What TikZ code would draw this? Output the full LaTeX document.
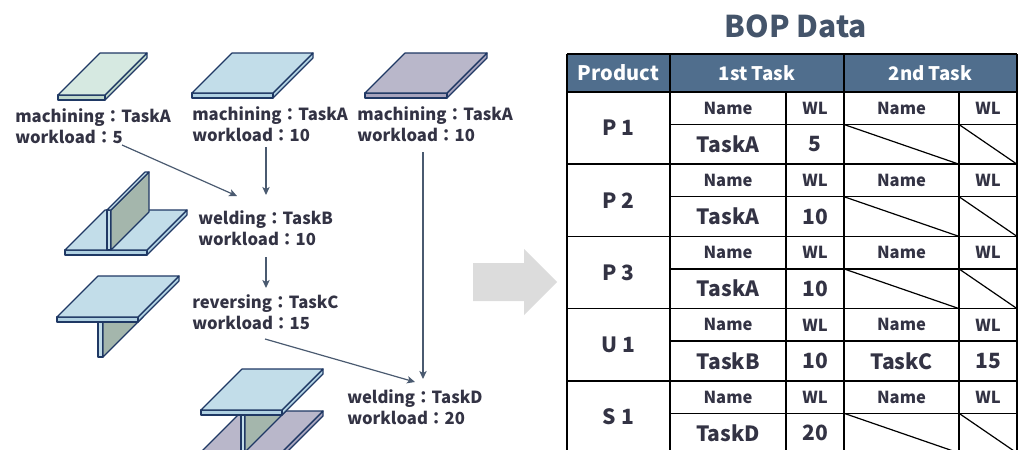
\documentclass[tikz,border=0pt]{standalone}
\usepackage{fontspec}
\setmainfont{Noto Sans CJK JP}
\usetikzlibrary{arrows.meta}
\definecolor{edge}{HTML}{1F3864}
\definecolor{pblue}{HTML}{C2DDE9}
\definecolor{pblueside}{HTML}{B0D1E2}
\definecolor{pgreen}{HTML}{D6E9E1}
\definecolor{pgreenside}{HTML}{BFD8CB}
\definecolor{ppurple}{HTML}{B9B7CA}
\definecolor{ppurpleside}{HTML}{A7A4BD}
\definecolor{webc}{HTML}{A4B6AC}
\definecolor{arrc}{HTML}{4A5A70}
\definecolor{txt}{HTML}{333344}
\definecolor{hdr}{HTML}{506E8D}
\definecolor{titlec}{HTML}{44546A}
\definecolor{bigarr}{HTML}{DCDCDC}
\newcommand\mkplate[6]{%
  \filldraw[fill=#6,draw=edge,line width=0.9pt,line join=round] ({#1+#3},#2) -- ++(#4,-#4) -- ++(0,5) -- ++(-#4,#4) -- cycle;
  \filldraw[fill=#6,draw=edge,line width=0.9pt,line join=round] (#1,#2) rectangle ++(#3,5);
  \filldraw[fill=#5,draw=edge,line width=0.9pt,line join=round] (#1,#2) -- ++(#3,0) -- ++(#4,-#4) -- ++(-#3,0) -- cycle;
}
\begin{document}
\begin{tikzpicture}[x=0.75pt,y=-0.75pt,
  lab/.style={anchor=west,inner sep=0pt,align=left,text=txt,font=\fontsize{12.5pt}{15.4pt}\selectfont\bfseries},
  conn/.style={draw=arrc,line width=0.9pt,-{Stealth[length=6pt,width=5.5pt,inset=1.5pt]}},
  webface/.style={fill=webc,draw=edge,line width=0.9pt,line join=round},
  webstrip/.style={fill=pblue,draw=edge,line width=0.9pt,line join=round},
  tline/.style={draw=black,line width=1.1pt},
  hdrtxt/.style={text=white,inner sep=0pt,font=\fontsize{14pt}{16pt}\selectfont\bfseries},
  smalltxt/.style={text=txt,inner sep=0pt,font=\fontsize{12.4pt}{14pt}\selectfont\bfseries},
  bigtxt/.style={text=txt,inner sep=0pt,font=\fontsize{15.75pt}{18pt}\selectfont\bfseries},
  prodtxt/.style={text=txt,inner sep=0pt,font=\fontsize{15.75pt}{18pt}\selectfont\bfseries}]
\useasboundingbox (0,0) rectangle (1022,450);
\clip (0,0) rectangle (1022,450);

% ---- plates (top row)
\mkplate{58}{95}{47}{42}{pgreen}{pgreenside}
\mkplate{192}{93}{81}{40}{pblue}{pblueside}
\mkplate{365}{93}{82}{40}{ppurple}{ppurpleside}

% ---- T shape (welding TaskB)
\mkplate{65}{250}{82}{40}{pblue}{pblueside}
\filldraw[webstrip] (107,210) rectangle (111,250);
\filldraw[webface] (111,250) -- (111,210) -- (149,172) -- (149,212) -- cycle;
\filldraw[webstrip] (107,210) -- (111,210) -- (149,172) -- (145,172) -- cycle;

% ---- reversed T (TaskC)
\filldraw[webstrip] (98,322) rectangle (103,357);
\filldraw[webface] (103,357) -- (103,322) -- (143,282) -- (143,317) -- cycle;
\mkplate{57}{317}{81}{41}{pblue}{pblueside}

% ---- I beam (TaskD)
\mkplate{201}{452}{81}{41}{ppurple}{ppurpleside}
\filldraw[webstrip] (241,415) rectangle (245,470);
\filldraw[webface] (245,452) -- (245,415) -- (286,374) -- (286,411) -- cycle;
\mkplate{201}{410}{81}{41}{pblue}{pblueside}

% ---- labels
\node[lab] (l1) at (15,126) {machining：TaskA\\workload：5};
\node[lab] (l2) at (192,124) {machining：TaskA\\workload：10};
\node[lab] (l3) at (357,124) {machining：TaskA\\workload：10};
\node[lab] (lB) at (198,228) {welding：TaskB\\workload：10};
\node[lab] (lC) at (192,312) {reversing：TaskC\\workload：15};
\node[lab] (lD) at (347,407) {welding：TaskD\\workload：20};

% ---- connectors
\coordinate (a1s) at (122,145); \coordinate (a1e) at (237,196);
\coordinate (a2s) at (266,147); \coordinate (a2e) at (266,195);
\coordinate (a3s) at (423,152); \coordinate (a3e) at (423,379);
\coordinate (a4s) at (266,257); \coordinate (a4e) at (266,288);
\coordinate (a5s) at (265,339); \coordinate (a5e) at (415,382);
\draw[conn] (a1s) -- (a1e);
\draw[conn] (a2s) -- (a2e);
\draw[conn] (a3s) -- (a3e);
\draw[conn] (a4s) -- (a4e);
\draw[conn] (a5s) -- (a5e);

% ---- big arrow
\fill[bigarr] (473,263) -- (524,263) -- (524,249) -- (557,282) -- (524,315) -- (524,301) -- (473,301) -- cycle;

% ---- title
\node[text=titlec,inner sep=0pt,font=\fontsize{22.5pt}{26pt}\selectfont\bfseries] (title) at (796,26) {BOP Data};

% ---- table header
\fill[hdr] (567,54) rectangle (1017,92);
\node[hdrtxt,font=\fontsize{15pt}{17pt}\selectfont\bfseries] (hP) at (618.5,73) {Product};
\node[hdrtxt] (h1) at (757,73) {1st Task};
\node[hdrtxt] (h2) at (930.5,73) {2nd Task};

% ---- table body
\foreach \lab/\ta/\wa [count=\r from 0] in {P 1/TaskA/5, P 2/TaskA/10, P 3/TaskA/10, U 1/TaskB/10, S 1/TaskD/20} {
  \pgfmathsetmacro\yt{92+72.2*\r}
  \pgfmathsetmacro\ym{\yt+32.5}
  \pgfmathsetmacro\yb{\yt+72.2}
  \draw[tline] (567,\yb) -- (1017,\yb);
  \draw[tline] (670,\ym) -- (1017,\ym);
  \node[prodtxt] (prod\r) at (618.5,{(\yt+\yb)/2}) {\lab};
  \node[smalltxt] (na\r) at (728,{(\yt+\ym)/2}) {Name};
  \node[smalltxt] (wa\r) at (815,{(\yt+\ym)/2}) {WL};
  \node[smalltxt] (nb\r) at (901.5,{(\yt+\ym)/2}) {Name};
  \node[smalltxt] (wb\r) at (988,{(\yt+\ym)/2}) {WL};
  \node[bigtxt] (ta\r) at (728,{(\ym+\yb)/2}) {\ta};
  \node[bigtxt] (va\r) at (815,{(\ym+\yb)/2}) {\wa};
}
\foreach \r in {0,1,2,4} {
  \pgfmathsetmacro\ym{92+72.2*\r+32.5}
  \pgfmathsetmacro\yb{92+72.2*\r+72.2}
  \draw[line width=0.9pt] (844,\ym) -- (959,\yb);
  \draw[line width=0.9pt] (959,\ym) -- (1017,\yb);
}
\node[bigtxt] (tb3) at (901.5,{92+72.2*3+52.3}) {TaskC};
\node[bigtxt] (vb3) at (988,{92+72.2*3+52.3}) {15};

\draw[tline] (670,54) -- (670,460);
\draw[tline] (844,54) -- (844,460);
\draw[tline] (786,92) -- (786,460);
\draw[tline] (959,92) -- (959,460);
\draw[tline] (567,54) -- (567,460);
\draw[tline] (1017,54) -- (1017,460);
\draw[tline] (567,54) -- (1017,54);
\draw[tline] (567,92) -- (1017,92);
\end{tikzpicture}
\end{document}
